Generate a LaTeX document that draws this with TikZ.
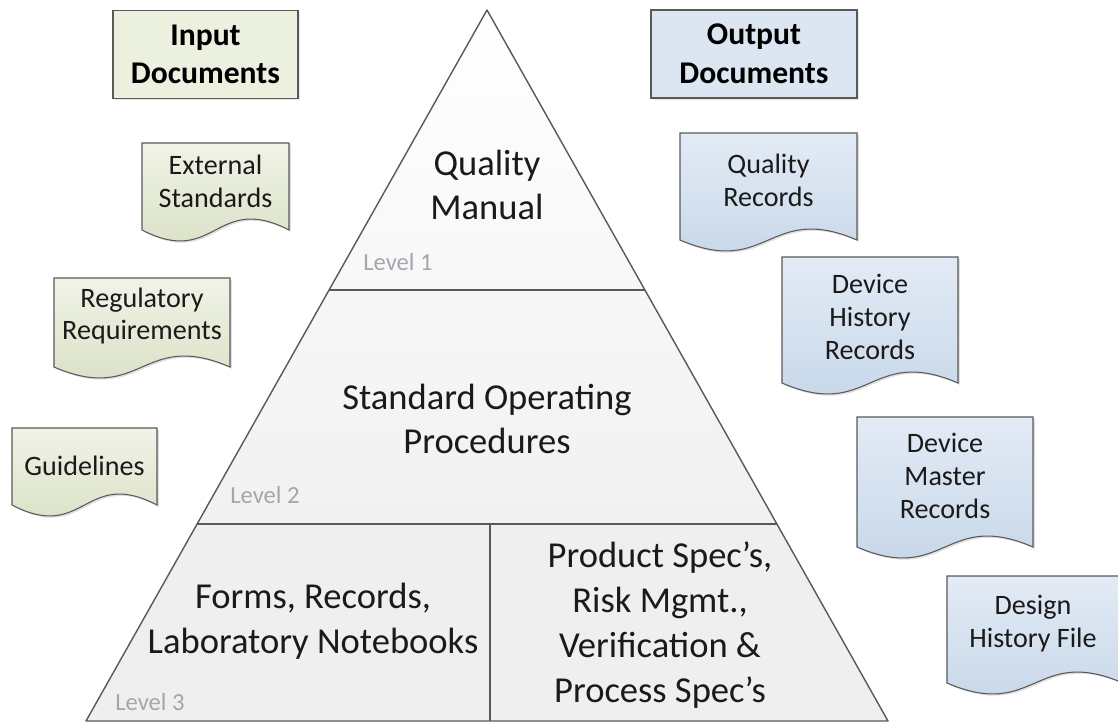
\documentclass[tikz,border=0pt]{standalone}
\usepackage{fontspec}
\setmainfont{Carlito}
\usepackage{tikz}
\usetikzlibrary{positioning}
\usetikzlibrary{shadows}

\definecolor{ingreen}{HTML}{EBF1DE}
\definecolor{ingreentop}{HTML}{F0F3E7}
\definecolor{ingreenlow}{HTML}{D6DEC0}
\definecolor{outblue}{HTML}{DCE6F2}
\definecolor{outbluetop}{HTML}{E3EBF5}
\definecolor{outbluelow}{HTML}{C3D5E8}
\definecolor{edgegray}{HTML}{595959}
\definecolor{textdark}{HTML}{1A1A1A}
\definecolor{levelgray}{HTML}{A3A6AD}
\definecolor{tierA}{HTML}{F7F7F7}
\definecolor{tierB}{HTML}{F1F1F1}
\definecolor{tierC}{HTML}{EFEFEF}

% document sheet with a wavy bottom edge: x0, y0, x1, y-bottom, top colour, bottom colour
\newcommand{\docsheet}[6]{%
	\path[draw=edgegray, line width=0.6pt, top color=#5, bottom color=#6,
		drop shadow={shadow xshift=1pt, shadow yshift=-1pt, opacity=0.25}]
		(#1,#2) -- (#3,#2) -- (#3,#4)
		.. controls ({(#1+#3)/2},{#4-38}) and ({(#1+#3)/2},{#4+38}) .. (#1,#4) -- cycle;%
}

\begin{document}
\begin{tikzpicture}[x=0.02cm, y=-0.02cm,
	every node/.style={inner sep=0pt, align=center},
	headbox/.style={draw=edgegray, line width=0.7pt, minimum height=1.76cm,
		font=\fontsize{18}{22}\selectfont\bfseries, text=black,
		drop shadow={shadow xshift=1pt, shadow yshift=-1pt, opacity=0.2}},
	doctext/.style={font=\fontsize{16}{18.7}\selectfont, text=textdark},
	tiertext/.style={font=\fontsize{20.8}{25.5}\selectfont, text=textdark},
	leveltext/.style={anchor=west, font=\fontsize{14}{16}\selectfont, text=levelgray},
	tierline/.style={draw=edgegray, line width=0.8pt, line join=round}]
	
	\useasboundingbox (0,0) rectangle (1118,723);
	
	% Pyramid corners, (x,y) in pixels of the picture
	\coordinate (apex) at (487,10);
	\coordinate (L1a) at (329,290);
	\coordinate (L1b) at (645,290);
	\coordinate (L2a) at (197,524);
	\coordinate (L2b) at (777,524);
	\coordinate (B1) at (86,721);
	\coordinate (B2) at (888,721);
	\coordinate (Mtop) at (490,524);
	\coordinate (Mbot) at (490,721);
	
	% tiers
	\fill[top color=white, bottom color=tierA] (apex) -- (L1b) -- (L1a) -- cycle;
	\fill[top color=tierA, bottom color=tierB] (L1a) -- (L1b) -- (L2b) -- (L2a) -- cycle;
	\fill[tierC] (L2a) -- (L2b) -- (B2) -- (B1) -- cycle;
	\draw[tierline] (apex) -- (B2) -- (B1) -- cycle;
	\draw[tierline] (L1a) -- (L1b);
	\draw[tierline] (L2a) -- (L2b);
	\draw[tierline] (Mtop) -- (Mbot);
	
	\node[tiertext] (QM) at (487,185) {Quality\\Manual};
	\node[tiertext] (SOP) at (487,419) {Standard Operating\\Procedures};
	\node[tiertext] (FRL) at (313,621) {Forms, Records,\\Laboratory Notebooks};
	\node[tiertext] (PRV) at (660,625) {Product Spec's,\\Risk Mgmt.,\\Verification \&\\Process Spec's};
	
	\node[leveltext] (lev1) at (363,262) {Level 1};
	\node[leveltext] (lev2) at (230,495) {Level 2};
	\node[leveltext] (lev3) at (115,702) {Level 3};
	
	%%%%%%%%%%%%%%%%%%%%%%%%%%%%%%%%%%%%%%%%%%%%%%%%%%%%%%%%%%%%%%
	% Input side
	\node[headbox, fill=ingreen, minimum width=3.7cm] (IN) at (205.5,54.5) {Input\\Documents};
	
	\docsheet{142}{143}{289}{230}{ingreentop}{ingreenlow}
	\node[doctext] (ES) at (215.5,181) {External\\Standards};
	
	\docsheet{54}{278}{230}{367}{ingreentop}{ingreenlow}
	\node[doctext] (RR) at (142,316) {Regulatory\\Requirements};
	
	\docsheet{12}{428}{157}{505}{ingreentop}{ingreenlow}
	\node[doctext] (GL) at (84.5,466) {Guidelines};
	
	%%%%%%%%%%%%%%%%%%%%%%%%%%%%%%%%%%%%%%%%%%%%%%%%%%%%%%%%%%%%%%
	% Output side
	\node[headbox, fill=outblue, minimum width=4.12cm] (OUT) at (754,54) {Output\\Documents};
	
	\docsheet{680}{133}{857}{240}{outbluetop}{outbluelow}
	\node[doctext] (QR) at (768.5,180) {Quality\\Records};
	
	\docsheet{782}{257}{958}{383}{outbluetop}{outbluelow}
	\node[doctext] (DHR) at (870,317) {Device\\History\\Records};
	
	\docsheet{857}{417}{1033}{547}{outbluetop}{outbluelow}
	\node[doctext] (DMR) at (945,476) {Device\\Master\\Records};
	
	\docsheet{947}{576}{1123}{683}{outbluetop}{outbluelow}
	\node[doctext] (DHF) at (1033,624) {Design\\History File};
	
\end{tikzpicture}
\end{document}
